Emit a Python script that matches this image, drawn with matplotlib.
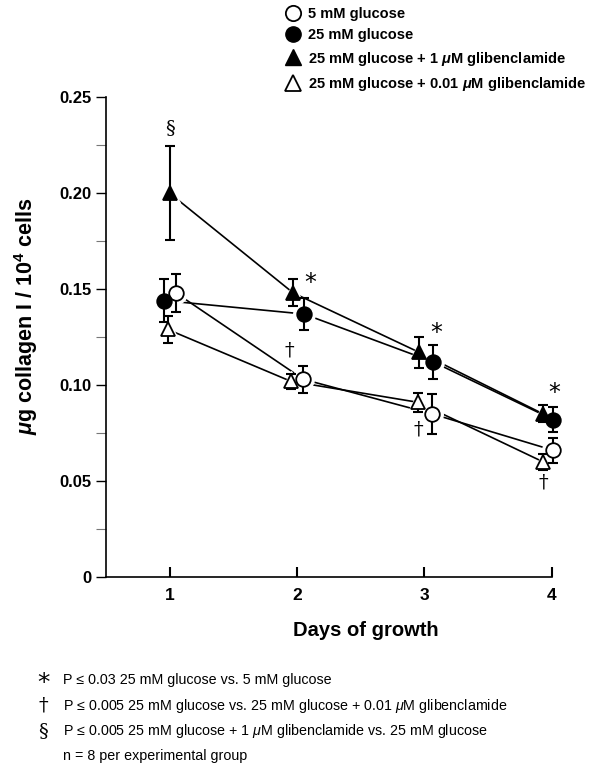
import numpy as np
import matplotlib
matplotlib.use("Agg")
import matplotlib.pyplot as plt
from matplotlib.lines import Line2D
from matplotlib.ticker import MultipleLocator

plt.rcParams['font.family'] = ['Liberation Sans', 'DejaVu Sans']
plt.rcParams['mathtext.fontset'] = 'custom'
plt.rcParams['mathtext.it'] = 'Liberation Sans:italic:bold'
plt.rcParams['mathtext.bf'] = 'Liberation Sans:bold'
plt.rcParams['mathtext.sf'] = 'Liberation Sans:italic'

# data
days = [1, 2, 3, 4]
glc5 = [0.148, 0.103, 0.085, 0.066]
glc5_err = [0.010, 0.007, 0.0105, 0.0065]
glc25 = [0.144, 0.137, 0.112, 0.082]
glc25_err = [0.011, 0.0085, 0.009, 0.0065]
glib1 = [0.200, 0.148, 0.117, 0.085]
glib1_err = [0.0245, 0.007, 0.008, 0.0045]
glib001 = [0.129, 0.102, 0.091, 0.060]
glib001_err = [0.007, 0.004, 0.005, 0.004]

labels = ["5 mM glucose", "25 mM glucose",
          r"25 mM glucose + 1 $\mu$M glibenclamide",
          r"25 mM glucose + 0.01 $\mu$M glibenclamide"]

# little horizontal shifts so the symbols don't sit on top of each other
shift5 = [0.05, 0.05, 0.06, 0.01]
shift25 = [-0.04, 0.055, 0.07, 0.01]
shift1 = [0.0, -0.03, -0.04, -0.07]
shift001 = [-0.015, -0.05, -0.05, -0.07]

fig = plt.figure(figsize=(5.98, 7.74), dpi=100)
ax = fig.add_axes([0.177, 0.2545, 0.746, 0.62])

series = [
    (glc5, glc5_err, shift5, 'o', 'white', 10.5),
    (glib001, glib001_err, shift001, '^', 'white', 10),
    (glib1, glib1_err, shift1, '^', 'black', 10),
    (glc25, glc25_err, shift25, 'o', 'black', 10.5),
]

# connecting lines
for vals, err, sh, m, fc, ms in series:
    x = np.array(days) + np.array(sh)
    ax.plot(x, vals, color='black', lw=1.2, zorder=1, clip_on=False)

# white halos give the little gaps between lines and symbols
for vals, err, sh, m, fc, ms in series:
    x = np.array(days) + np.array(sh)
    ax.plot(x, vals, ls='none', marker=m, ms=ms + 5, color='white',
            zorder=2, clip_on=False)

for vals, err, sh, m, fc, ms in series:
    x = np.array(days) + np.array(sh)
    ax.errorbar(x, vals, yerr=err, fmt='none', ecolor='black', elinewidth=1.5,
                capsize=3.5, capthick=1.5, zorder=3, clip_on=False)
    ax.plot(x, vals, ls='none', marker=m, ms=ms, mfc=fc, mec='black',
            mew=1.3, zorder=4, clip_on=False)

# significance marks
ax.text(1.0, 0.234, "§", ha='center', va='center', fontsize=14, family='DejaVu Serif')
for xs, ys in [(2.10, 0.153), (3.09, 0.127), (4.02, 0.096)]:
    ax.text(xs, ys, "*", ha='center', va='center', fontsize=17, family='DejaVu Sans')
for xs, ys in [(1.94, 0.118), (2.95, 0.077), (3.93, 0.049)]:
    ax.text(xs, ys, "†", ha='center', va='center', fontsize=14, family='DejaVu Serif')

ax.set_xlim(0.5, 4)
ax.set_ylim(0, 0.25)
ax.set_xticks(days)
ax.set_yticks([0, 0.05, 0.10, 0.15, 0.20, 0.25])
ax.set_yticklabels(["0", "0.05", "0.10", "0.15", "0.20", "0.25"])
ax.yaxis.set_minor_locator(MultipleLocator(0.025))
ax.tick_params(axis='y', which='both', direction='out', length=7, width=1, labelsize=12, pad=3)
ax.tick_params(axis='y', which='minor', color='#777777', width=0.8)
ax.tick_params(axis='x', direction='in', length=7, width=1.5, labelsize=12.5, pad=8)
for lab in ax.get_xticklabels() + ax.get_yticklabels():
    lab.set_fontweight('bold')
ax.spines['top'].set_visible(False)
ax.spines['right'].set_visible(False)
ax.spines['left'].set_linewidth(1.2)
ax.spines['bottom'].set_linewidth(1.2)

ax.text(0.583, -0.112, "Days of growth", transform=ax.transAxes, fontsize=14.5,
        fontweight='bold', ha='center', va='center')
ax.text(-0.179, 0.544, r"$\mu$g collagen I / 10$^{\mathbf{4}}$ cells", transform=ax.transAxes,
        fontsize=15.5, fontweight='bold', rotation=90, ha='center', va='center')

handles = [
    Line2D([], [], ls='none', marker='o', ms=11, mfc='white', mec='black', mew=1.3),
    Line2D([], [], ls='none', marker='o', ms=11, mfc='black', mec='black'),
    Line2D([], [], ls='none', marker='^', ms=11, mfc='black', mec='black'),
    Line2D([], [], ls='none', marker='^', ms=11, mfc='white', mec='black', mew=1.3),
]
leg = fig.legend(handles, labels, loc='upper left', bbox_to_anchor=(0.478, 0.991),
                 frameon=False, handlelength=1.0, handletextpad=0.5,
                 labelspacing=0.5, borderpad=0, borderaxespad=0,
                 prop={'size': 10.5, 'weight': 'bold'})

# footnotes
notes = [
    ("*", r"P ≤ 0.03 25 mM glucose vs. 5 mM glucose"),
    ("†", r"P ≤ 0.005 25 mM glucose vs. 25 mM glucose + 0.01 $\mathsf{\mu}$M glibenclamide"),
    ("§", r"P ≤ 0.005 25 mM glucose + 1 $\mathsf{\mu}$M glibenclamide vs. 25 mM glucose"),
    ("", "n = 8 per experimental group"),
]
ys = [0.121, 0.088, 0.056, 0.023]
for (sym, txt), yy in zip(notes, ys):
    if sym == "*":
        fig.text(0.072, yy - 0.004, sym, fontsize=18, ha='center', va='center', family='DejaVu Sans')
    elif sym:
        fig.text(0.072, yy, sym, fontsize=14, ha='center', va='center', family='DejaVu Serif')
    fig.text(0.105, yy, txt, fontsize=10.3, ha='left', va='center')

fig.savefig("out.png", dpi=100)
